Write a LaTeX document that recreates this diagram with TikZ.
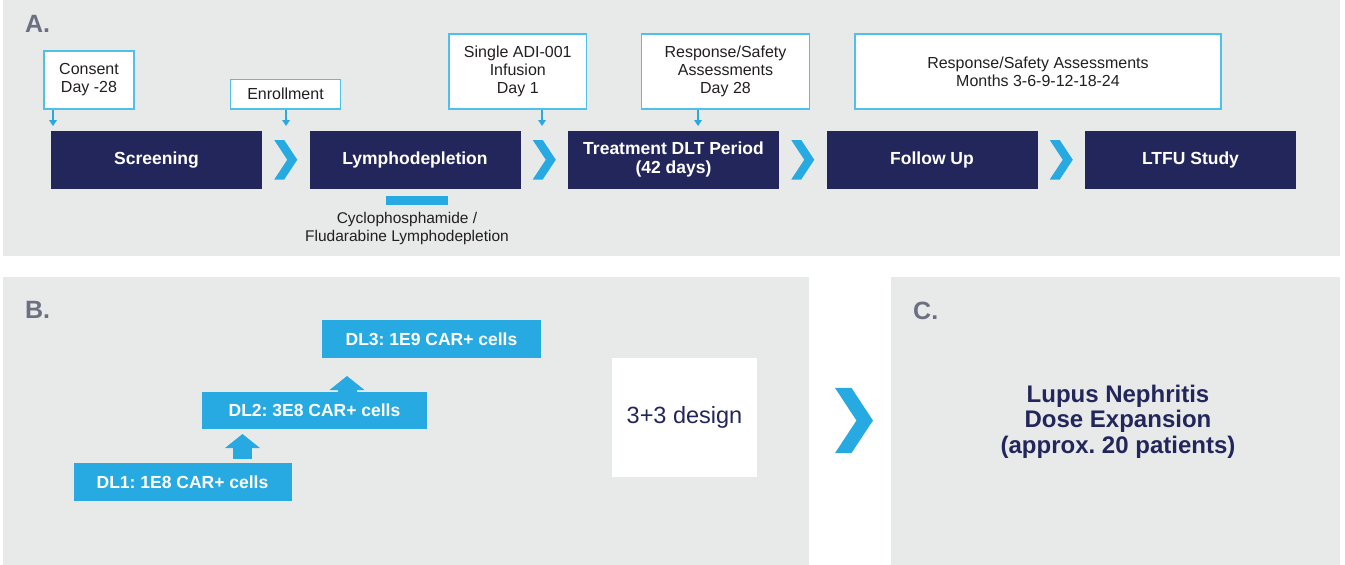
\documentclass[tikz,border=0pt]{standalone}
\usepackage{fontspec}
\setmainfont{Liberation Sans}
\usetikzlibrary{arrows.meta,calc}
\definecolor{panelgray}{HTML}{E8EAEA}
\definecolor{navy}{HTML}{23265A}
\definecolor{cyanblue}{HTML}{27AAE1}
\definecolor{callblue}{HTML}{4FC0EA}
\definecolor{labelgray}{HTML}{6B6F80}
\definecolor{txtdark}{HTML}{231F20}
\frenchspacing

\begin{document}
\begin{tikzpicture}[x=1pt,y=-1pt,
  panel/.style={fill=panelgray},
  phase/.style={fill=navy,text=white,inner sep=0pt,minimum width=211pt,
    minimum height=57.5pt,align=center,font=\bfseries\fontsize{17.5}{19}\selectfont},
  callout/.style={draw=callblue,line width=1.4pt,fill=white,text=txtdark,
    inner sep=0pt,align=center,font=\fontsize{16}{18}\selectfont},
  callarrow/.style={draw=cyanblue,line width=1.3pt,
    -{Triangle[width=8pt,length=6pt,line width=0pt]}},
  dose/.style={fill=cyanblue,text=white,inner sep=0pt,minimum height=38pt,
    font=\bfseries\fontsize{17.5}{20}\selectfont},
  stepup/.style={draw=cyanblue,line width=19pt,
    -{Triangle[width=35pt,length=14pt,line width=0pt]}},
  panellabel/.style={anchor=base west,inner sep=0pt,text=labelgray,
    font=\bfseries\fontsize{25}{28}\selectfont},
  chevron/.pic={\fill[cyanblue] (-11.5,-19.75) -- (-1.5,-19.75) -- (11.5,0)
    -- (-1.5,19.75) -- (-11.5,19.75) -- (1.5,0) -- cycle;}
]
\useasboundingbox (0,0) rectangle (1345,565);
\fill[white] (0,0) rectangle (1345,565);

% panels
\fill[panel] (3,0) rectangle (1340,255.5);
\fill[panel] (3,277) rectangle (809,565);
\fill[panel] (891,277) rectangle (1340,565);

\node[panellabel] (labA) at (25,32) {A.};
\node[panellabel] (labB) at (25,318) {B.};
\node[panellabel] (labC) at (913,319) {C.};

% ---- A: study timeline ----
\node[phase] (scr) at (156.5,159.75) {Screening};
\node[phase] (lym) at (415,159.75) {Lymphodepletion};
\node[phase] (trt) at (673.5,159.75) {Treatment DLT Period\\(42 days)};
\node[phase] (fol) at (932,159.75) {Follow Up};
\node[phase] (ltf) at (1190.5,159.75) {LTFU Study};

\pic at ($(scr.east)!0.5!(lym.west)$) {chevron};
\pic at ($(lym.east)!0.5!(trt.west)$) {chevron};
\pic at ($(trt.east)!0.5!(fol.west)$) {chevron};
\pic at ($(fol.east)!0.5!(ltf.west)$) {chevron};

\node[callout,minimum width=90pt,minimum height=58pt] (cons) at (89,80) {Consent\\Day -28};
\node[callout,minimum width=110pt,minimum height=29.5pt] (enr) at (285.5,94.25) {Enrollment};
\node[callout,minimum width=137.5pt,minimum height=75pt] (adi) at (517.8,71.5) {Single ADI-001\\Infusion\\Day 1};
\node[callout,minimum width=168pt,minimum height=75pt] (d28) at (725.5,71.5) {Response/Safety\\Assessments\\Day 28};
\node[callout,minimum width=366pt,minimum height=75pt] (mon) at (1038,71.5) {Response/Safety Assessments\\Months 3-6-9-12-18-24};

\coordinate (t1) at (53,126);
\coordinate (t2) at (286,126);
\coordinate (t3) at (542,126);
\coordinate (t4) at (698,126);
\draw[callarrow] (cons.south -| t1) -- (t1);
\draw[callarrow] (enr.south -| t2) -- (t2);
\draw[callarrow] (adi.south -| t3) -- (t3);
\draw[callarrow] (d28.south -| t4) -- (t4);

\node[fill=cyanblue,minimum width=61.5pt,minimum height=8.5pt,inner sep=0pt] (bar) at (416.75,200.25) {};
\node[text=txtdark,align=center,font=\fontsize{15.5}{17.5}\selectfont] (chemo) at (407,228.7)
  {Cyclophosphamide /\\Fludarabine Lymphodepletion};

% ---- B: dose escalation ----
\node[dose,minimum width=218pt] (dl1) at (182.5,482) {DL1: 1E8 CAR+ cells};
\node[dose,minimum width=225pt,minimum height=37pt] (dl2) at (314.5,410.5) {DL2: 3E8 CAR+ cells};
\node[dose,minimum width=219pt] (dl3) at (431.5,339) {DL3: 1E9 CAR+ cells};

\coordinate (a1) at (242.5,434);
\path (dl1.north -| a1) ++(0,-4) coordinate (a1s);
\draw[stepup] (a1s) -- (a1);
\coordinate (a2) at (347,376);
\draw[stepup] (dl2.north -| a2) -- (a2);

\node[fill=white,minimum width=145pt,minimum height=119.5pt,text=navy,
  font=\fontsize{23.5}{26}\selectfont] (des) at (684.5,417.3) {3+3 design};

\pic[scale=1.646] at (854,420.5) {chevron};

% ---- C: expansion ----
\node[text=navy,align=center,font=\bfseries\fontsize{24}{25.3}\selectfont] (lnx) at (1118,421.7)
  {Lupus Nephritis\\Dose Expansion\\(approx. 20 patients)};
\end{tikzpicture}
\end{document}
